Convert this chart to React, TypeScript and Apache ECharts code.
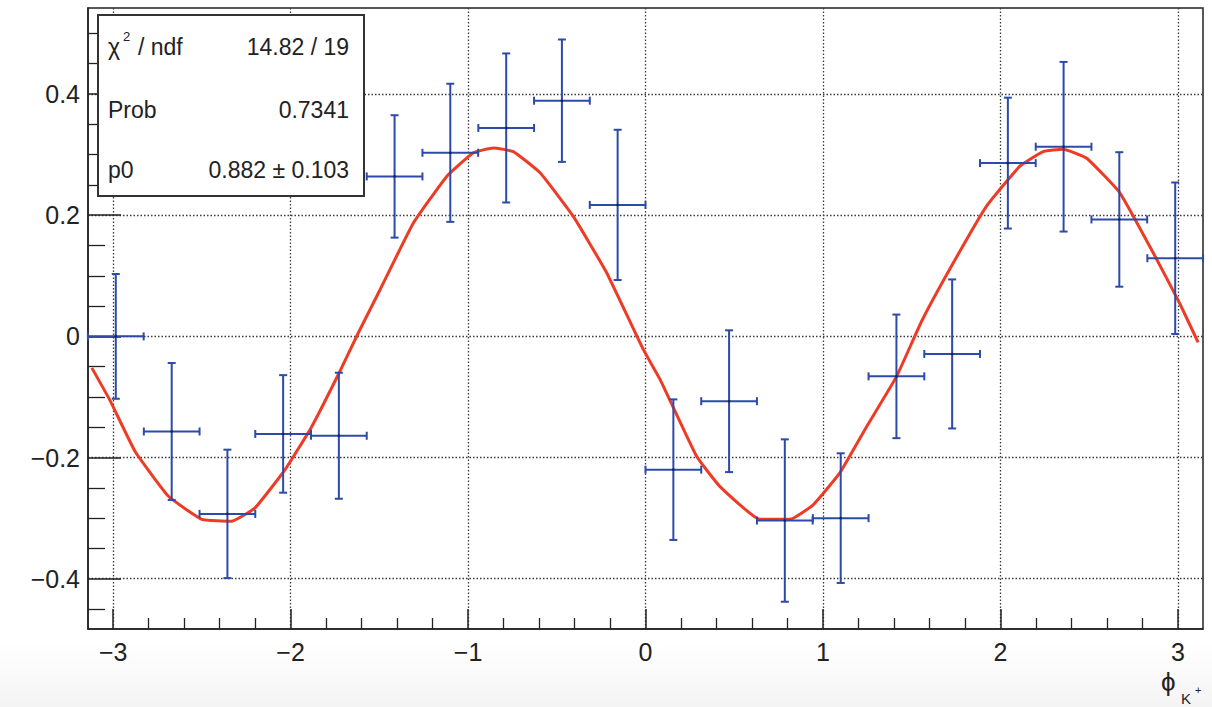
import React, { useEffect, useRef } from "react";
import * as echarts from "echarts";

// Binned asymmetry versus azimuthal angle of the kaon, with statistical errors
const phiCenters = [
  -2.985, -2.67, -2.356, -2.042, -1.728, -1.414, -1.1, -0.785, -0.471, -0.157,
  0.157, 0.471, 0.785, 1.1, 1.414, 1.728, 2.042, 2.356, 2.67, 2.985,
];
const asymmetry = [
  0.0, -0.157, -0.293, -0.161, -0.164, 0.264, 0.303, 0.344, 0.389, 0.217,
  -0.22, -0.107, -0.304, -0.3, -0.066, -0.029, 0.286, 0.313, 0.193, 0.129,
];
const asymmetryErr = [
  0.103, 0.113, 0.106, 0.097, 0.104, 0.101, 0.114, 0.123, 0.101, 0.124,
  0.116, 0.117, 0.134, 0.107, 0.102, 0.123, 0.108, 0.14, 0.111, 0.125,
];
const binHalfWidth = 0.157;

// Fitted curve, sampled along phi
const fitPhi = [
  -3.12, -3.017, -2.876, -2.688, -2.5, -2.331, -2.2, -2.031, -1.881, -1.731,
  -1.618, -1.496, -1.308, -1.12, -0.97, -0.857, -0.745, -0.594, -0.407, -0.219,
  -0.012, 0.082, 0.288, 0.42, 0.645, 0.814, 0.945, 1.096, 1.246, 1.415, 1.556,
  1.734, 1.922, 2.11, 2.241, 2.354, 2.486, 2.673, 2.861, 3.011, 3.114,
];
const fitValue = [
  -0.052, -0.106, -0.19, -0.264, -0.302, -0.305, -0.283, -0.22, -0.149, -0.063,
  0.006, 0.077, 0.187, 0.264, 0.303, 0.311, 0.305, 0.27, 0.198, 0.105,
  -0.022, -0.071, -0.198, -0.248, -0.302, -0.302, -0.278, -0.225, -0.149, -0.066, 0.025,
  0.121, 0.215, 0.281, 0.305, 0.309, 0.294, 0.237, 0.138, 0.054, -0.01,
];

// Axis ticks
const xTickValues = [-3, -2, -1, 0, 1, 2, 3];
const xMinorTickValues = [
  -2.8, -2.6, -2.4, -2.2, -1.8, -1.6, -1.4, -1.2, -0.8, -0.6, -0.4, -0.2,
  0.2, 0.4, 0.6, 0.8, 1.2, 1.4, 1.6, 1.8, 2.2, 2.4, 2.6, 2.8,
];
const yTickValues = [-0.4, -0.2, 0, 0.2, 0.4];
const yMinorTickValues = [
  -0.45, -0.35, -0.3, -0.25, -0.15, -0.1, -0.05, 0.05, 0.1, 0.15, 0.25, 0.3,
  0.35, 0.45, 0.5,
];
const Y_MIN = -0.483;
const Y_MAX = 0.542;

// Fit statistics box
const statsLabels = ["Prob", "p0"];
const statsValues = ["14.82 / 19", "0.7341", "0.882 \u00b1 0.103"];

const FONT = "'Liberation Sans', Arial, Helvetica, sans-serif";
const BLUE = "#2c4aa8";
const RED = "#ee3b26";
const INK = "#222";

const fmt = (v: number) => (v === 0 ? "0" : String(v).replace("-", "\u2212"));

export default function App() {
  const ref = useRef<HTMLDivElement>(null);

  useEffect(() => {
    if (!ref.current) return;
    const chart = echarts.init(ref.current, undefined, { renderer: "svg" });

    const points = phiCenters.map((x, i) => [x, asymmetry[i], binHalfWidth, asymmetryErr[i]]);
    const fitData = fitPhi.map((x, i) => [x, fitValue[i]]);

    const gridLine = { show: true, lineStyle: { color: "#3a3a3a", width: 1.3, type: [1.5, 2] as any } };

    const statText = (text: string, x: number, y: number, align: string, size = 23) => ({
      type: "text",
      x,
      y,
      z: 101,
      style: { text, fontSize: size, fontFamily: FONT, fill: INK, align, verticalAlign: "middle" },
    });

    chart.setOption({
      animation: false,
      backgroundColor: "#fff",
      grid: {
        left: 88,
        right: 9,
        top: 8,
        bottom: 78,
        show: true,
        borderColor: INK,
        borderWidth: 1.5,
        backgroundColor: "#fff",
      },
      xAxis: [
        {
          type: "value",
          position: "bottom",
          min: -Math.PI,
          max: Math.PI,
          axisLine: { show: true, onZero: false, lineStyle: { color: INK, width: 1.5 } },
          axisTick: { show: true, inside: true, length: 20, customValues: xTickValues, lineStyle: { color: INK, width: 1.5 } },
          axisLabel: { customValues: xTickValues, formatter: fmt, fontSize: 25, fontFamily: FONT, color: INK, margin: 10 },
          splitLine: gridLine,
        },
        {
          type: "value",
          position: "bottom",
          min: -Math.PI,
          max: Math.PI,
          axisLine: { show: false, onZero: false },
          axisTick: { show: true, inside: true, length: 11, customValues: xMinorTickValues, lineStyle: { color: INK, width: 1.3 } },
          axisLabel: { show: false },
          splitLine: { show: false },
        },
      ],
      yAxis: [
        {
          type: "value",
          position: "left",
          min: Y_MIN,
          max: Y_MAX,
          axisLine: { show: true, onZero: false, lineStyle: { color: INK, width: 1.5 } },
          axisTick: { show: true, inside: true, length: 33, customValues: yTickValues, lineStyle: { color: INK, width: 1.5 } },
          axisLabel: { customValues: yTickValues, formatter: fmt, fontSize: 25, fontFamily: FONT, color: INK, margin: 8 },
          splitLine: gridLine,
        },
        {
          type: "value",
          position: "left",
          min: Y_MIN,
          max: Y_MAX,
          axisLine: { show: false, onZero: false },
          axisTick: { show: true, inside: true, length: 17, customValues: yMinorTickValues, lineStyle: { color: INK, width: 1.3 } },
          axisLabel: { show: false },
          splitLine: { show: false },
        },
      ],
      series: [
        {
          type: "line",
          name: "fit",
          xAxisIndex: 0,
          yAxisIndex: 0,
          data: fitData,
          showSymbol: false,
          smooth: 0.12,
          lineStyle: { color: RED, width: 3 },
          z: 3,
        },
        {
          type: "custom",
          name: "asymmetry",
          xAxisIndex: 0,
          yAxisIndex: 0,
          data: points,
          encode: { x: 0, y: 1 },
          z: 4,
          renderItem: (_params: any, api: any) => {
            const x = api.value(0);
            const y = api.value(1);
            const ex = api.value(2);
            const ey = api.value(3);
            const c = api.coord([x, y]);
            const l = api.coord([x - ex, y]);
            const r = api.coord([x + ex, y]);
            const t = api.coord([x, y + ey]);
            const b = api.coord([x, y - ey]);
            const cap = 4;
            const style = { stroke: BLUE, lineWidth: 2 };
            const seg = (x1: number, y1: number, x2: number, y2: number) => ({
              type: "line",
              shape: { x1, y1, x2, y2 },
              style,
            });
            return {
              type: "group",
              children: [
                seg(l[0], c[1], r[0], c[1]),
                seg(c[0], t[1], c[0], b[1]),
                seg(c[0] - cap, t[1], c[0] + cap, t[1]),
                seg(c[0] - cap, b[1], c[0] + cap, b[1]),
                seg(l[0], c[1] - cap, l[0], c[1] + cap),
                seg(r[0], c[1] - cap, r[0], c[1] + cap),
                { type: "circle", shape: { cx: c[0], cy: c[1], r: 1.3 }, style: { fill: "#1b2150" } },
              ],
            };
          },
        },
      ],
      graphic: [
        {
          type: "rect",
          silent: true,
          z: -10,
          shape: { x: 0, y: 640, width: 1212, height: 67 },
          style: {
            fill: new echarts.graphic.LinearGradient(0, 0, 0, 1, [
              { offset: 0, color: "rgba(245,245,245,0)" },
              { offset: 1, color: "#f4f4f4" },
            ]),
          },
        },
        {
          type: "rect",
          z: 100,
          shape: { x: 98, y: 15, width: 266, height: 181 },
          style: { fill: "#fff", stroke: "#333", lineWidth: 2 },
        },
        statText("\u03c7", 108, 47, "left"),
        statText("2", 123, 36, "left", 13),
        statText("/ ndf", 138, 47, "left"),
        statText(statsValues[0], 349, 47, "right"),
        statText(statsLabels[0], 108, 110, "left"),
        statText(statsValues[1], 349, 110, "right"),
        statText(statsLabels[1], 108, 170, "left"),
        statText(statsValues[2], 349, 170, "right"),
        // axis title: phi of the K+
        {
          type: "text",
          x: 1161,
          y: 682,
          style: { text: "\u03d5", fontSize: 26, fontFamily: FONT, fill: INK, align: "left", verticalAlign: "middle" },
        },
        {
          type: "text",
          x: 1181,
          y: 698,
          style: { text: "K", fontSize: 15, fontFamily: FONT, fill: INK, align: "left", verticalAlign: "middle" },
        },
        {
          type: "text",
          x: 1195,
          y: 690,
          style: { text: "+", fontSize: 11, fontFamily: FONT, fill: INK, align: "left", verticalAlign: "middle" },
        },
      ],
    });

    return () => chart.dispose();
  }, []);

  return (
    <div
      ref={ref}
      style={{ position: "fixed", left: 0, top: 0, width: 1212, height: 707, background: "#fff" }}
    />
  );
}
